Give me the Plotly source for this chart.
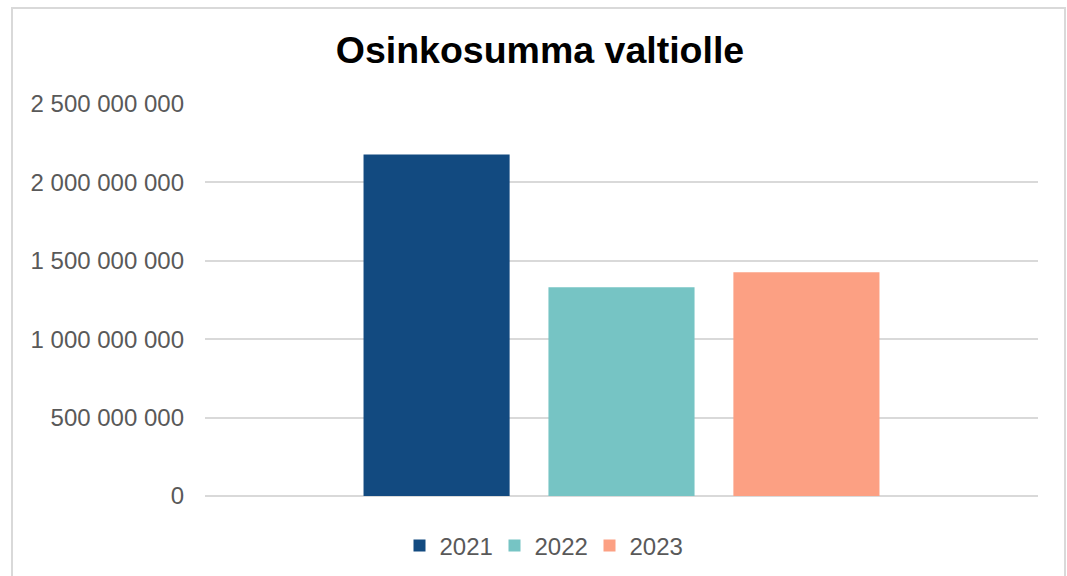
import plotly.graph_objects as go

years = ["2021", "2022", "2023"]
values = [2178000000, 1331000000, 1427000000]
colors = ["#124A80", "#76C4C4", "#FCA083"]
title_text = "Osinkosumma valtiolle"
y_ticks = [0, 500000000, 1000000000, 1500000000, 2000000000, 2500000000]

W, H = 1067, 576
L, R, T, B = 205, 29, 104, 80
pw, ph = W - L - R, H - T - B

fig = go.Figure()
for yr, v, c in zip(years, values, colors):
    fig.add_trace(go.Bar(x=[""], y=[v], name=yr, marker=dict(color=c, line=dict(width=0))))

def px2x(px):
    return (px - L) / pw

def py2y(py):
    return (H - B - py) / ph

fig.update_layout(
    width=W, height=H,
    margin=dict(l=L, r=R, t=T, b=B, pad=0),
    paper_bgcolor="white", plot_bgcolor="white",
    separators=", ",
    barmode="group", bargap=0.334, bargroupgap=0.21,
    font=dict(family="Liberation Sans, Arial, sans-serif", color="#595959", size=24),
    title=dict(text="<b>" + title_text + "</b>", x=540 / W, xanchor="center",
               y=1 - 50 / H, yanchor="middle", xref="container", yref="container",
               font=dict(size=37.5, color="#000000")),
    xaxis=dict(range=[-0.5, 0.5], showticklabels=False, showgrid=False, zeroline=False,
               showline=False, fixedrange=True),
    yaxis=dict(range=[0, 2500000000], tickvals=y_ticks, tickformat=",d",
               showgrid=True, gridcolor="#D9D9D9", gridwidth=1.5,
               zeroline=True, zerolinecolor="#D9D9D9", zerolinewidth=1.5,
               showline=False, ticks="", ticklabelstandoff=20,
               tickfont=dict(size=24, color="#595959")),
    legend=dict(orientation="h", xref="container", yref="container",
                x=542 / W, xanchor="center", y=1 - 546 / H, yanchor="middle",
                font=dict(size=24, color="#595959"), itemwidth=30, tracegroupgap=0,
                entrywidth=50, entrywidthmode="pixels",
                bgcolor="rgba(0,0,0,0)"),
    shapes=[dict(type="rect", xref="paper", yref="paper",
                 x0=px2x(12), x1=px2x(1065), y0=py2y(590), y1=py2y(8),
                 line=dict(color="#D9D9D9", width=2), fillcolor="rgba(0,0,0,0)", layer="below")],
    showlegend=True,
)

fig.write_html("out.html")
